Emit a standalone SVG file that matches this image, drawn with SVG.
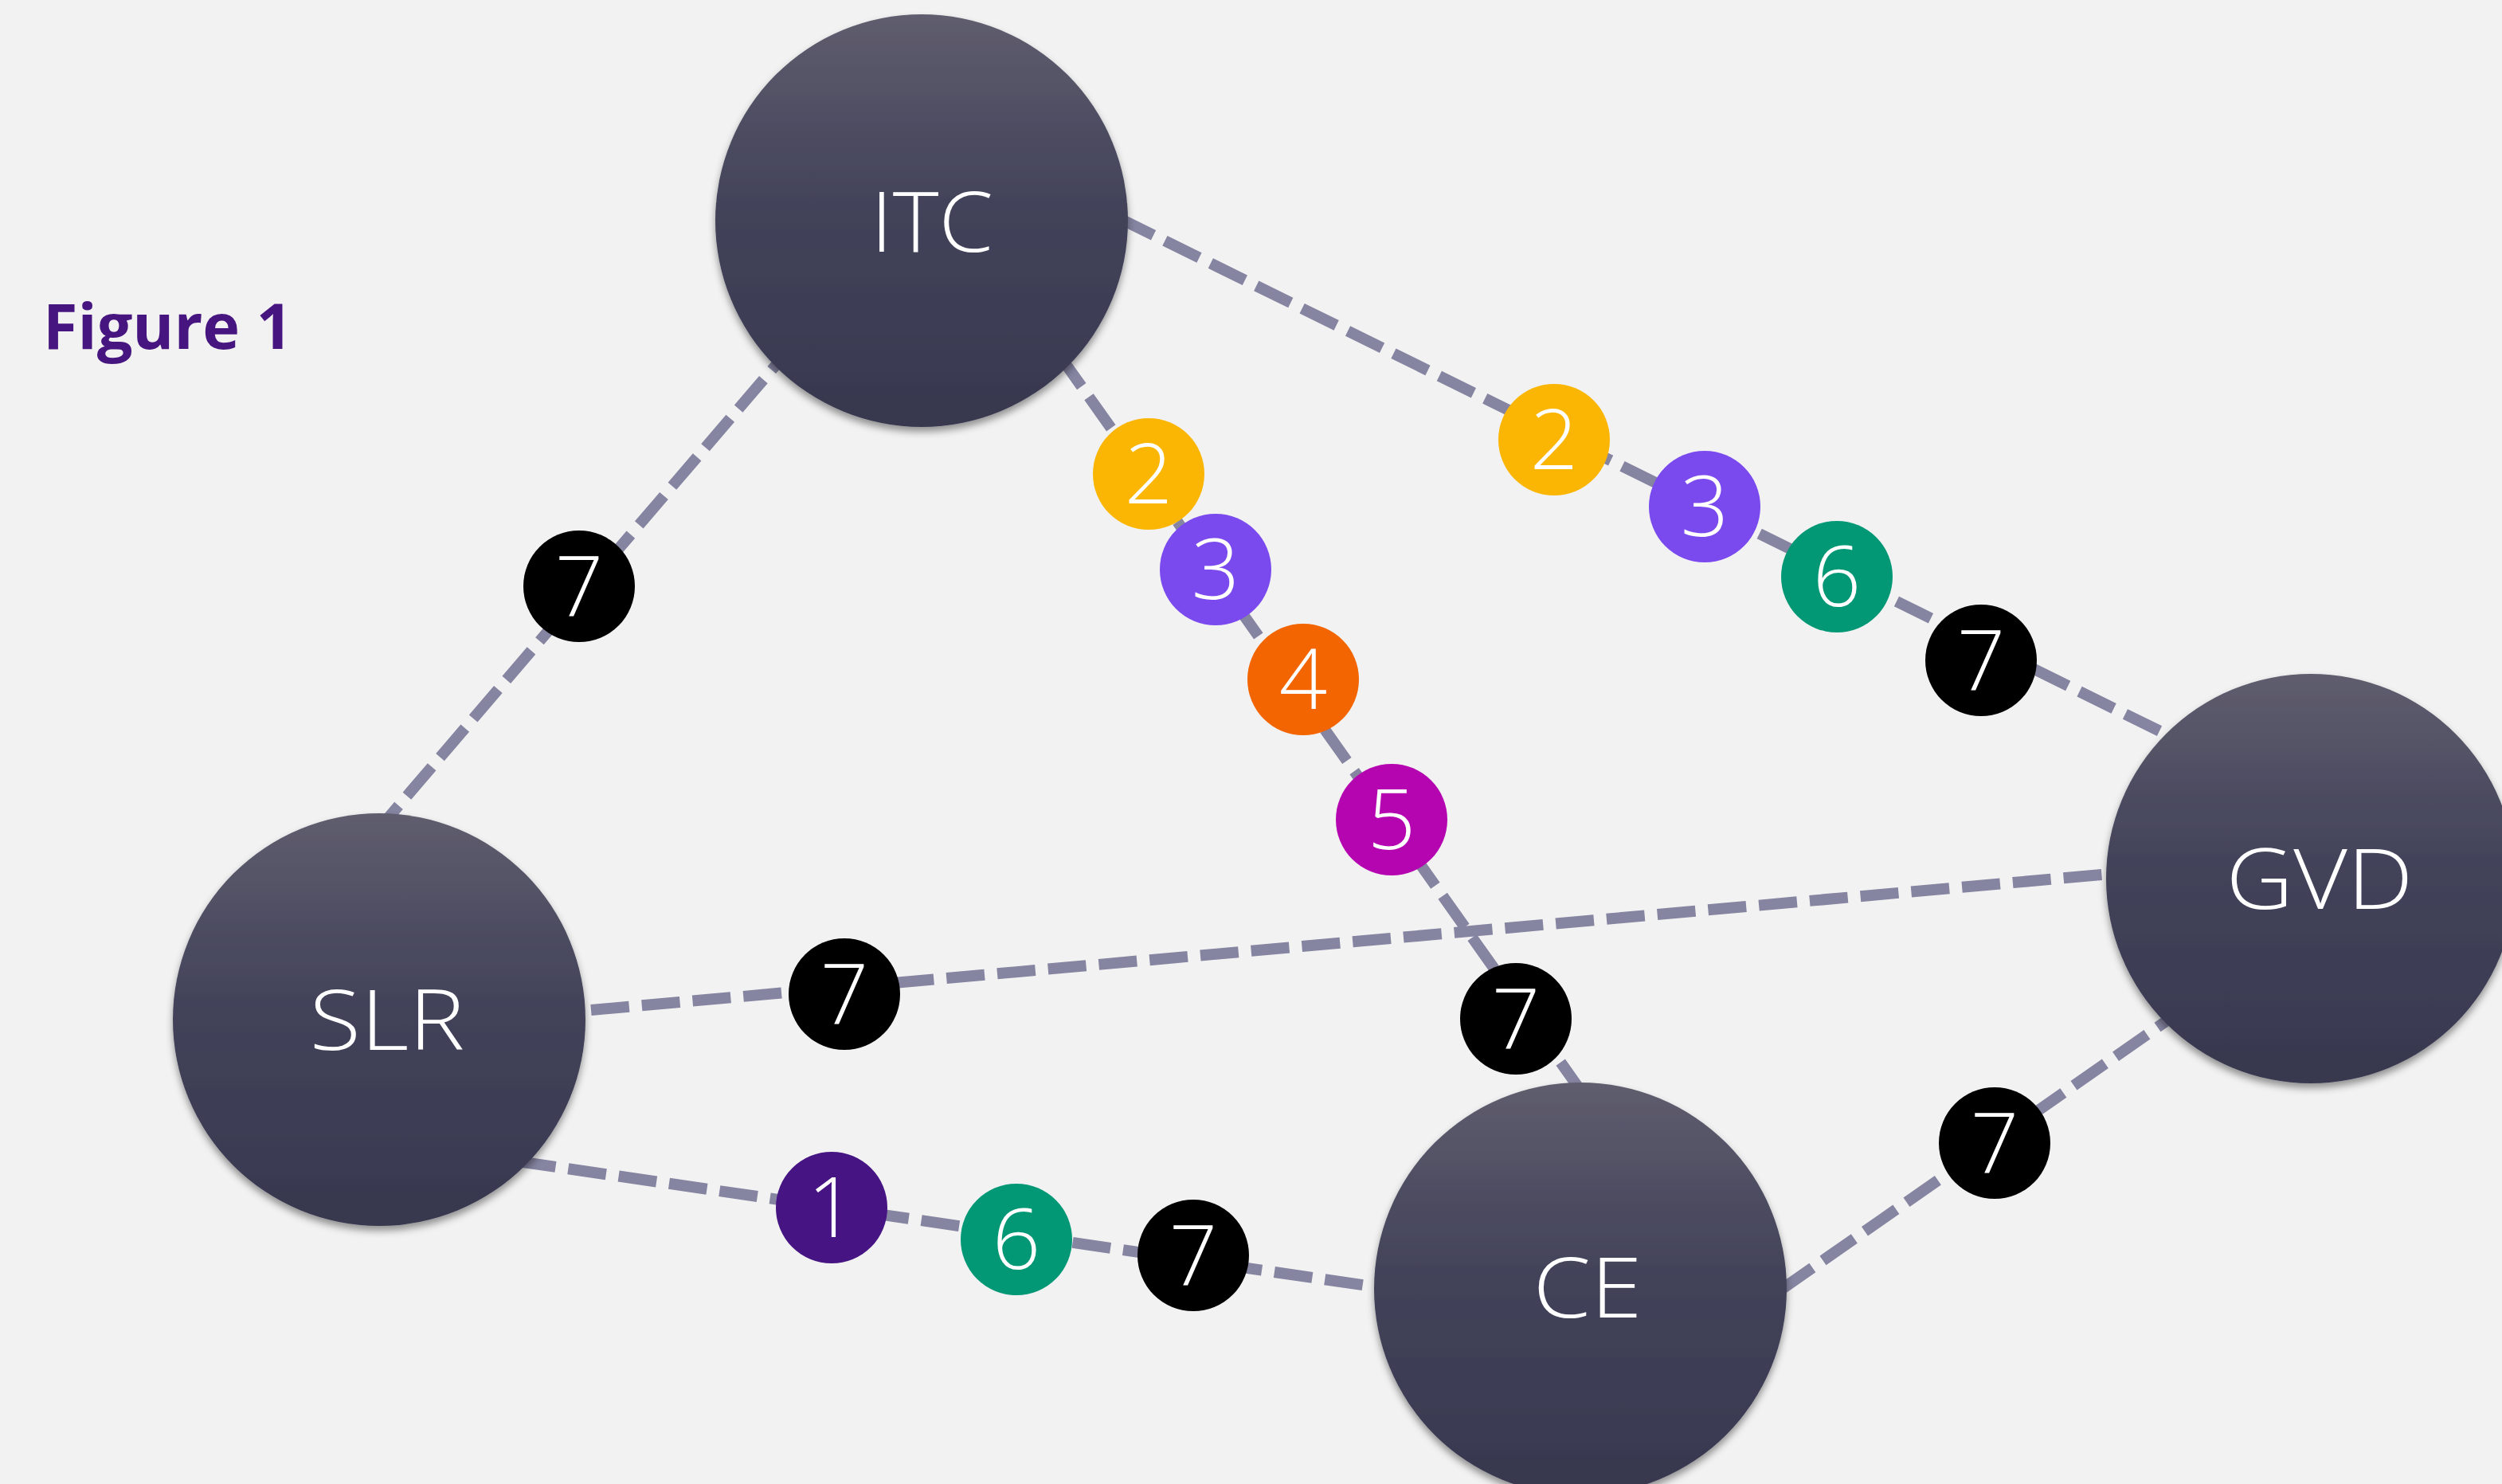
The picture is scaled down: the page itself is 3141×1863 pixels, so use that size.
<svg xmlns="http://www.w3.org/2000/svg" width="3141" height="1863" viewBox="0 0 3141 1863">
<defs>
<linearGradient id="nodeGrad" x1="0" y1="0" x2="0" y2="1">
<stop offset="0" stop-color="#5f5d6e"/>
<stop offset="0.45" stop-color="#43435a"/>
<stop offset="1" stop-color="#37374f"/>
</linearGradient>
<filter id="shadow" x="-20%" y="-20%" width="140%" height="140%">
<feDropShadow dx="0" dy="6" stdDeviation="5" flood-color="#000" flood-opacity="0.4"/>
</filter>
<style>
.edge{fill:none;stroke:#8584a1;stroke-width:14;stroke-dasharray:48 16;stroke-linecap:butt}
.node{fill:url(#nodeGrad);filter:url(#shadow)}
.label{fill:#ffffff;font-family:"Open Sans","Liberation Sans",sans-serif;font-weight:300;font-size:106px;text-anchor:middle}
.num{fill:#ffffff;font-family:"Open Sans","Liberation Sans",sans-serif;font-weight:300;font-size:106px;text-anchor:middle}
.title{fill:#46157f;font-family:"Open Sans","Liberation Sans",sans-serif;font-weight:700;font-size:78px}
</style>
</defs>
<rect width="3141" height="1863" fill="#f2f2f2"/>
<text class="title" x="54" y="438" textLength="313" lengthAdjust="spacingAndGlyphs">Figure 1</text>
<g id="connectors">
<line class="edge" x1="1000" y1="428" x2="476" y2="1040"/>
<line class="edge" x1="1405" y1="274" x2="2730" y2="927"/>
<line class="edge" x1="1330" y1="446" x2="1985" y2="1370"/>
<line class="edge" x1="742" y1="1268" x2="2650" y2="1097"/>
<line class="edge" x1="650" y1="1458" x2="1730" y2="1616"/>
<line class="edge" x1="2236" y1="1619" x2="2728" y2="1276"/>
</g>
<g id="node-ITC">
<circle class="node" cx="1157" cy="277" r="259"/>
<text class="label" x="1170" y="316" textLength="154" lengthAdjust="spacingAndGlyphs">ITC</text>
</g>
<g id="node-SLR">
<circle class="node" cx="476" cy="1280" r="259"/>
<text class="label" x="486" y="1318" textLength="195" lengthAdjust="spacingAndGlyphs">SLR</text>
</g>
<g id="node-GVD">
<circle class="node" cx="2901" cy="1103" r="257"/>
<text class="label" x="2912" y="1141" textLength="235" lengthAdjust="spacingAndGlyphs">GVD</text>
</g>
<g id="node-CE">
<circle class="node" cx="1984" cy="1618" r="259"/>
<text class="label" x="1993" y="1654" textLength="137" lengthAdjust="spacingAndGlyphs">CE</text>
</g>
<g id="badges">
<g id="badge-itc-slr-7"><circle cx="727" cy="736" r="70" fill="#000"/><text class="num" x="727" y="773">7</text></g>
<g id="badge-itc-gvd-2"><circle cx="1951" cy="552" r="70" fill="#fbb603"/><text class="num" x="1951" y="589">2</text></g>
<g id="badge-itc-gvd-3"><circle cx="2140" cy="636" r="70" fill="#7a4aee"/><text class="num" x="2140" y="673">3</text></g>
<g id="badge-itc-gvd-6"><circle cx="2306" cy="724" r="70" fill="#029875"/><text class="num" x="2306" y="761">6</text></g>
<g id="badge-itc-gvd-7"><circle cx="2487" cy="829" r="70" fill="#000"/><text class="num" x="2487" y="866">7</text></g>
<g id="badge-itc-ce-2"><circle cx="1442" cy="595" r="70" fill="#fbb603"/><text class="num" x="1442" y="632">2</text></g>
<g id="badge-itc-ce-3"><circle cx="1526" cy="715" r="70" fill="#7a4aee"/><text class="num" x="1526" y="752">3</text></g>
<g id="badge-itc-ce-4"><circle cx="1636" cy="853" r="70" fill="#f26500"/><text class="num" x="1636" y="890">4</text></g>
<g id="badge-itc-ce-5"><circle cx="1747" cy="1029" r="70" fill="#b405b0"/><text class="num" x="1747" y="1066">5</text></g>
<g id="badge-itc-ce-7"><circle cx="1903" cy="1279" r="70" fill="#000"/><text class="num" x="1903" y="1316">7</text></g>
<g id="badge-slr-gvd-7"><circle cx="1060" cy="1248" r="70" fill="#000"/><text class="num" x="1060" y="1285">7</text></g>
<g id="badge-slr-ce-1"><circle cx="1044" cy="1516" r="70" fill="#461483"/><text class="num" x="1044" y="1553">1</text></g>
<g id="badge-slr-ce-6"><circle cx="1276" cy="1556" r="70" fill="#029875"/><text class="num" x="1276" y="1593">6</text></g>
<g id="badge-slr-ce-7"><circle cx="1498" cy="1576" r="70" fill="#000"/><text class="num" x="1498" y="1613">7</text></g>
<g id="badge-ce-gvd-7"><circle cx="2504" cy="1435" r="70" fill="#000"/><text class="num" x="2504" y="1472">7</text></g>
</g>
</svg>
